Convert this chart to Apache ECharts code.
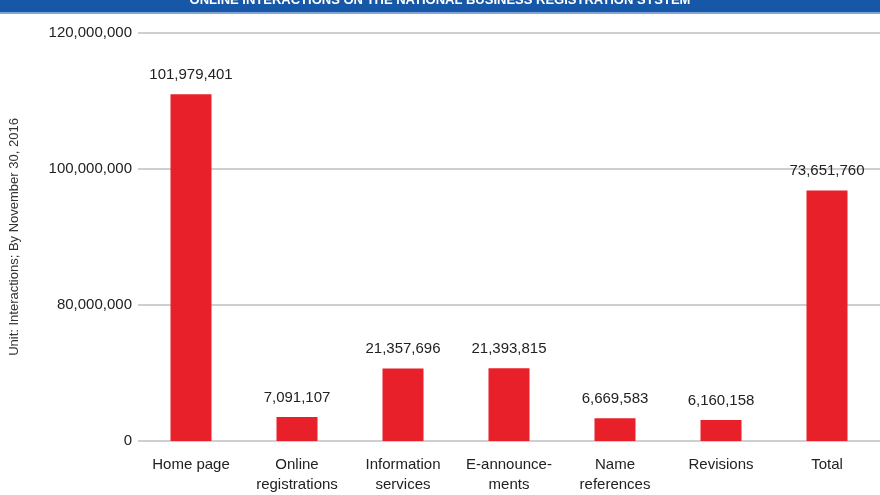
<!DOCTYPE html>
<html><head><meta charset="utf-8">
<script src="https://cdn.jsdelivr.net/npm/echarts@6/dist/echarts.min.js"></script>
<style>html,body{margin:0;padding:0;background:#fff}#c{width:880px;height:495px}</style>
</head><body><div id="c"></div>
<script>
const categories = ['Home page','Online\nregistrations','Information\nservices','E-announce-\nments','Name\nreferences','Revisions','Total'];
const values = [101979401, 7091107, 21357696, 21393815, 6669583, 6160158, 73651760];
const tickLabels = ['0','80,000,000','100,000,000','120,000,000'];
const title = 'ONLINE INTERACTIONS ON THE NATIONAL BUSINESS REGISTRATION SYSTEM';

const chart = echarts.init(document.getElementById('c'));
chart.setOption({
  animation:false,
  textStyle:{fontFamily:'Liberation Sans, Arial, sans-serif'},
  graphic:[
    {type:'rect',shape:{x:0,y:0,width:880,height:12},style:{fill:'#1657a8'}},
    {type:'rect',shape:{x:0,y:12,width:880,height:2},style:{fill:'#7fa6d6'}},
    {type:'text',left:'center',top:-6,style:{text:title,fill:'#fff',font:'bold 13px Liberation Sans'}}
  ],
  grid:{left:135,right:0,top:33,bottom:42},
  xAxis:{type:'category',data:categories,
    axisLine:{show:false},axisTick:{show:false},
    axisLabel:{color:'#222',fontSize:15,margin:14,lineHeight:20,interval:0,verticalAlign:'top'}},
  yAxis:{type:'value',min:0,max:120000000,interval:40000000,
    name:'Unit: Interactions; By November 30, 2016',nameLocation:'middle',nameGap:117,
    nameTextStyle:{color:'#333',fontSize:13},
    axisLabel:{color:'#222',fontSize:15,margin:6,formatter:(v,i)=>tickLabels[i]},
    splitLine:{lineStyle:{color:'#cfcfcf',width:2}}},
  series:[{type:'bar',data:values,barWidth:41,
    itemStyle:{color:'#e8202a'},
    label:{show:true,position:'top',distance:12,color:'#222',fontSize:15,
      formatter:p=>p.value.toLocaleString('en-US')}}]
});
</script></body></html>
